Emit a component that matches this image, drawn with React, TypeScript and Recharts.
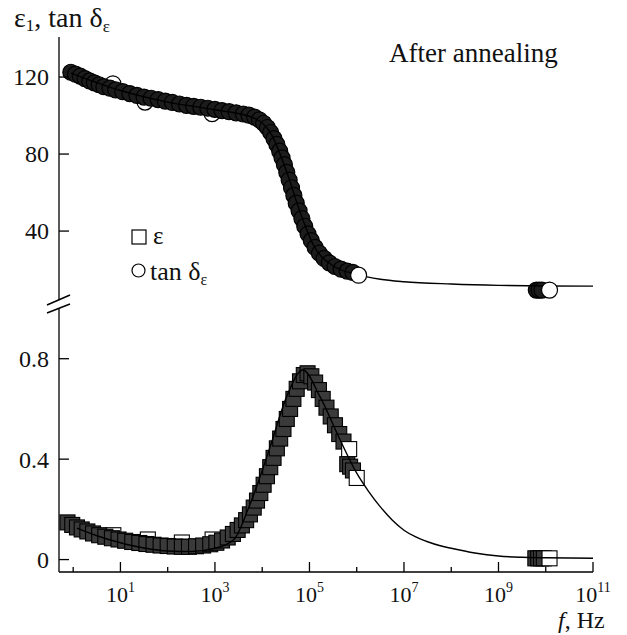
import { ComposedChart, Scatter, Line, XAxis, YAxis } from "recharts";

// [log10(f), value] readings
const epsPoints: [number, number][] = [
  [-0.05, 122.5], [0.05, 121.5], [0.15, 120.5], [0.25, 119.2], [0.35, 118], [0.45, 117],
  [0.55, 116], [0.65, 115], [0.78, 114.2], [0.9, 113.3], [1.05, 112.4], [1.2, 111.4],
  [1.35, 110.5], [1.5, 109.6], [1.65, 109], [1.8, 108.3], [1.95, 107.5], [2.1, 106.8],
  [2.25, 106], [2.4, 105.3], [2.55, 104.8], [2.7, 104.3], [2.85, 103.8], [3.0, 103.2],
  [3.15, 102.6], [3.3, 102], [3.45, 101.4], [3.6, 100.8], [3.72, 100.2], [3.84, 99.2],
  [3.94, 97.8], [4.03, 96], [4.11, 93.8], [4.18, 91.2], [4.25, 88], [4.31, 85],
  [4.37, 81.5], [4.42, 78], [4.47, 74.5], [4.52, 70.5], [4.57, 66.5], [4.62, 62.5],
  [4.67, 58.5], [4.72, 54.5], [4.78, 50.5], [4.84, 46.5], [4.9, 42.5], [4.97, 38.5],
  [5.04, 35], [5.12, 31.5], [5.21, 28.5], [5.31, 25.8], [5.42, 23.5], [5.54, 21.6],
  [5.67, 20.2], [5.8, 19.2], [5.92, 18.5],
  [9.8, 9.35], [9.86, 9.35], [9.92, 9.35],
];
const epsOpenTop: [number, number][] = [[6.04, 17.1], [10.08, 9.35]];
const epsOpenUnder: [number, number][] = [[0.84, 116.5], [1.52, 107], [2.94, 101]];
const epsFit: [number, number][] = [
  [-0.05, 122], [1, 113], [2, 107], [3, 103], [3.8, 99], [4.2, 90], [4.5, 72], [4.8, 50],
  [5.1, 32], [5.5, 22], [6.0, 17.5], [6.5, 15], [7, 13.7], [8, 12.5], [9, 11.8], [10, 11.5], [11, 11.4],
];

const tanPoints: [number, number][] = [
  [-0.12, 0.148], [-0.02, 0.138], [0.08, 0.128], [0.18, 0.12], [0.3, 0.112], [0.42, 0.104],
  [0.55, 0.097], [0.68, 0.091], [0.82, 0.085], [0.96, 0.08], [1.1, 0.075], [1.25, 0.07],
  [1.4, 0.066], [1.55, 0.062], [1.7, 0.059], [1.85, 0.056], [2.0, 0.054], [2.15, 0.052],
  [2.3, 0.051], [2.45, 0.051], [2.6, 0.053], [2.75, 0.056], [2.9, 0.061], [3.03, 0.067],
  [3.15, 0.076], [3.27, 0.088], [3.38, 0.102], [3.48, 0.118], [3.57, 0.136], [3.66, 0.157],
  [3.74, 0.18], [3.82, 0.207], [3.89, 0.235], [3.96, 0.265], [4.03, 0.298], [4.1, 0.332],
  [4.17, 0.368], [4.24, 0.405], [4.31, 0.443], [4.38, 0.482], [4.45, 0.52], [4.52, 0.56],
  [4.59, 0.6], [4.66, 0.64], [4.73, 0.68], [4.8, 0.71], [4.88, 0.735], [4.96, 0.742],
  [5.04, 0.73], [5.12, 0.705], [5.2, 0.675], [5.28, 0.64], [5.36, 0.605], [5.45, 0.57],
  [5.54, 0.535], [5.63, 0.5], [5.72, 0.47],
  [5.8, 0.38], [5.86, 0.37], [5.92, 0.355],
  [9.78, 0.005], [9.84, 0.005], [9.9, 0.005], [9.96, 0.005],
];
const tanOpenTop: [number, number][] = [[5.84, 0.44], [6.0, 0.325], [10.08, 0.005]];
const tanOpenUnder: [number, number][] = [[0.85, 0.097], [1.58, 0.08], [2.3, 0.068], [2.95, 0.08]];
const tanFit: [number, number][] = [
  [0.08, 0.125], [0.5, 0.095], [1.0, 0.067], [1.5, 0.046], [2.0, 0.034], [2.5, 0.032],
  [3.0, 0.045], [3.4, 0.08], [3.7, 0.2], [3.9, 0.3], [4.17, 0.45], [4.52, 0.65], [4.86, 0.755],
  [5.22, 0.65], [5.65, 0.476], [6.0, 0.344], [6.25, 0.272], [6.5, 0.21], [6.75, 0.158],
  [7.0, 0.117], [7.25, 0.09], [7.5, 0.071], [7.75, 0.056], [8.0, 0.045], [8.5, 0.026],
  [9.0, 0.014], [9.5, 0.009], [10.0, 0.007], [11.0, 0.005],
];

const xTicks = [0, 1, 2, 3, 4, 5, 6, 7, 8, 9, 10, 11];
const epsTicks = [40, 80, 120];
const tanTicks = [0, 0.4, 0.8];

const toXY = (arr: [number, number][]) => arr.map(([x, y]) => ({ x, y }));
const FONT = "'Liberation Serif', 'Times New Roman', serif";
const txt = { fontFamily: FONT, fill: "#111" };

const XTick = (props: any) => {
  const { x, y, payload } = props;
  const major = payload.value % 2 === 1;
  return (
    <g>
      <line x1={x} y1={y} x2={x} y2={y - (major ? 10 : 5)} stroke="#000" strokeWidth={1.3} />
      {major && (
        <text x={x} y={y + 30} textAnchor="middle" style={{ ...txt, fontSize: 22 }}>
          10<tspan dy={-10} style={{ fontSize: 14 }}>{payload.value}</tspan>
        </text>
      )}
    </g>
  );
};

const YTick = (props: any) => {
  const { x, y, payload } = props;
  return (
    <g>
      <line x1={x} y1={y} x2={x + 10} y2={y} stroke="#000" strokeWidth={1.3} />
      <text x={x - 10} y={y} dy="0.35em" textAnchor="end" style={{ ...txt, fontSize: 24 }}>
        {payload.value}
      </text>
    </g>
  );
};

const circle = (fill: string) => (p: any) => (
  <circle cx={p.cx} cy={p.cy} r={8} fill={fill} stroke="#000" strokeWidth={1.2} />
);
const square = (fill: string) => (p: any) => (
  <rect x={p.cx - 7.5} y={p.cy - 7.5} width={15} height={15} fill={fill} stroke="#000" strokeWidth={1.1} />
);

export default function App() {
  return (
    <div style={{ position: "absolute", left: 0, top: 0, width: 627, height: 635, background: "#fff" }}>
      <div style={{ position: "absolute", left: 0, top: 0 }}>
        <ComposedChart width={627} height={310} margin={{ top: 37, right: 34, bottom: 10, left: 0 }}>
          <XAxis type="number" dataKey="x" domain={[-0.3, 11]} hide allowDataOverflow />
          <YAxis
            type="number"
            dataKey="y"
            width={59}
            domain={[4.2, 140.8]}
            ticks={epsTicks}
            allowDataOverflow
            tickSize={0}
            tickMargin={0}
            tick={<YTick />}
            axisLine={{ stroke: "#000", strokeWidth: 1.3 }}
          />
          <Scatter data={toXY(epsOpenUnder)} dataKey="y" shape={circle("#fff")} isAnimationActive={false} />
          <Scatter data={toXY(epsPoints)} dataKey="y" shape={circle("#1c1c1c")} isAnimationActive={false} />
          <Line data={toXY(epsFit)} dataKey="y" type="monotone" stroke="#000" strokeWidth={1.4} dot={false} isAnimationActive={false} zIndex={700} />
          <Scatter data={toXY(epsOpenTop)} dataKey="y" shape={circle("#fff")} isAnimationActive={false} zIndex={800} />
        </ComposedChart>
      </div>
      <div style={{ position: "absolute", left: 0, top: 0 }}>
        <ComposedChart width={627} height={635} margin={{ top: 309, right: 34, bottom: 23, left: 0 }}>
          <XAxis
            type="number"
            dataKey="x"
            domain={[-0.3, 11]}
            ticks={xTicks}
            interval={0}
            height={40}
            allowDataOverflow
            tickSize={0}
            tickMargin={0}
            tick={<XTick />}
            axisLine={{ stroke: "#000", strokeWidth: 1.3 }}
          />
          <YAxis
            type="number"
            dataKey="y"
            width={59}
            domain={[-0.0495, 0.998]}
            ticks={tanTicks}
            allowDataOverflow
            tickSize={0}
            tickMargin={0}
            tick={<YTick />}
            axisLine={{ stroke: "#000", strokeWidth: 1.3 }}
          />
          <Scatter data={toXY(tanOpenUnder)} dataKey="y" shape={square("#fff")} isAnimationActive={false} />
          <Scatter data={toXY(tanPoints)} dataKey="y" shape={square("#3a3a3a")} isAnimationActive={false} />
          <Scatter data={toXY(tanOpenTop)} dataKey="y" shape={square("#fff")} isAnimationActive={false} zIndex={650} />
          <Line data={toXY(tanFit)} dataKey="y" type="monotone" stroke="#000" strokeWidth={1.4} dot={false} isAnimationActive={false} zIndex={700} />
        </ComposedChart>
      </div>
      <svg width={627} height={635} style={{ position: "absolute", left: 0, top: 0, pointerEvents: "none", fontFamily: FONT }} fill="#111">
        <text x={14} y={27} style={{ fontSize: 28 }}>
          ε<tspan style={{ fontSize: 17 }} dy={4}>1</tspan>
          <tspan dy={-4}>, tan δ</tspan>
          <tspan style={{ fontSize: 17 }} dy={5}>ε</tspan>
        </text>
        <text x={389} y={62} style={{ fontSize: 27 }}>After annealing</text>
        <rect x={132} y={230} width={14} height={14} fill="#fff" stroke="#000" strokeWidth={1.2} />
        <text x={153} y={244} style={{ fontSize: 25 }}>ε</text>
        <circle cx={138.5} cy={270.5} r={6.5} fill="#fff" stroke="#000" strokeWidth={1.2} />
        <text x={150} y={280} style={{ fontSize: 26 }}>
          tan δ<tspan style={{ fontSize: 16 }} dy={5}>ε</tspan>
        </text>
        <text x={558} y={628} style={{ fontSize: 24 }}>
          <tspan fontStyle="italic">f</tspan>, Hz
        </text>
        <line x1={47} y1={305} x2={70} y2={295} stroke="#000" strokeWidth={1.5} />
        <line x1={47} y1={313} x2={70} y2={304} stroke="#000" strokeWidth={1.5} />
      </svg>
    </div>
  );
}
